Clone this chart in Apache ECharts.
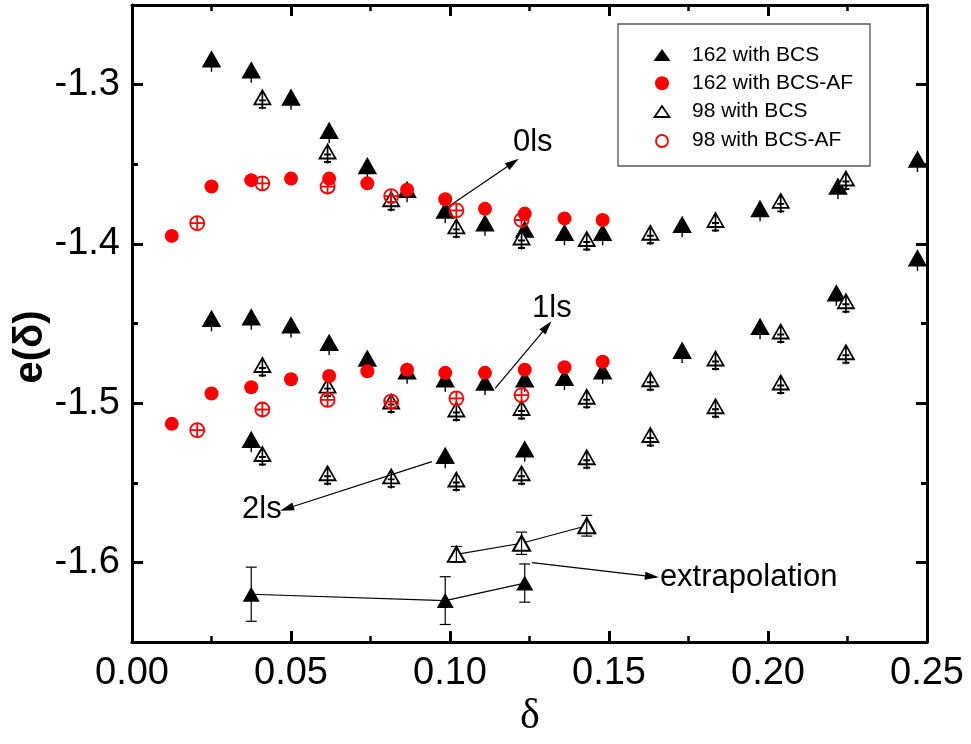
<!DOCTYPE html>
<html><head><meta charset="utf-8">
<script src="https://cdn.jsdelivr.net/npm/echarts@6/dist/echarts.min.js"></script>
<style>html,body{margin:0;padding:0;background:#fff}#c{width:971px;height:744px}</style>
</head><body><div id="c"></div>
<script>
// ---------------- data ----------------
// 162 sites with BCS (filled black triangles)
const tri162_0ls = [[0.025,-1.284],[0.0375,-1.291],[0.05,-1.308],[0.062,-1.329],[0.074,-1.351],[0.0865,-1.366],[0.0985,-1.379],[0.111,-1.387],[0.1235,-1.391],[0.136,-1.393],[0.148,-1.393],[0.173,-1.388],[0.1975,-1.378],[0.222,-1.364],[0.247,-1.347]];
const tri162_1ls = [[0.025,-1.447],[0.0375,-1.446],[0.05,-1.451],[0.062,-1.462],[0.074,-1.472],[0.0865,-1.480],[0.0985,-1.485],[0.111,-1.487],[0.1235,-1.485],[0.136,-1.484],[0.148,-1.480],[0.173,-1.467],[0.1975,-1.452],[0.2215,-1.431],[0.247,-1.409]];
const tri162_2ls = [[0.0375,-1.523],[0.0985,-1.533],[0.1235,-1.529]];
// 98 sites with BCS (open triangles)
const tri98_0ls = [[0.041,-1.308],[0.0615,-1.342],[0.0815,-1.372],[0.102,-1.389],[0.1225,-1.396],[0.143,-1.397],[0.163,-1.393],[0.1835,-1.385],[0.204,-1.373],[0.2245,-1.359]];
const tri98_1ls = [[0.041,-1.476],[0.0615,-1.489],[0.0815,-1.499],[0.102,-1.504],[0.1225,-1.503],[0.143,-1.496],[0.163,-1.485],[0.1835,-1.472],[0.204,-1.455],[0.2245,-1.436]];
const tri98_2ls = [[0.041,-1.532],[0.0615,-1.544],[0.0815,-1.546],[0.102,-1.548],[0.1225,-1.544],[0.143,-1.534],[0.163,-1.520],[0.1835,-1.502],[0.204,-1.487],[0.2245,-1.468]];
// 162 sites with BCS-AF (red filled circles)
const circ162_0ls = [[0.0125,-1.395],[0.025,-1.364],[0.0375,-1.360],[0.05,-1.359],[0.062,-1.359],[0.074,-1.362],[0.0865,-1.366],[0.0985,-1.372],[0.111,-1.378],[0.1235,-1.381],[0.136,-1.384],[0.148,-1.385]];
const circ162_1ls = [[0.0125,-1.513],[0.025,-1.494],[0.0375,-1.490],[0.05,-1.485],[0.062,-1.483],[0.074,-1.480],[0.0865,-1.479],[0.0985,-1.481],[0.111,-1.481],[0.1235,-1.479],[0.136,-1.4775],[0.148,-1.474]];
// 98 sites with BCS-AF (red open circles)
const ring98_0ls = [[0.0205,-1.387],[0.041,-1.362],[0.0615,-1.364],[0.0815,-1.370],[0.102,-1.379],[0.1225,-1.385]];
const ring98_1ls = [[0.0205,-1.517],[0.041,-1.504],[0.0615,-1.498],[0.0815,-1.499],[0.102,-1.497],[0.1225,-1.495]];
// extrapolations with error bars
const ext162 = [[0.0375,-1.620],[0.0985,-1.624],[0.1235,-1.613]];
const ext162Err = [0.017,0.015,0.012];
const ext98 = [[0.102,-1.595],[0.1225,-1.588],[0.143,-1.577]];
const ext98Err = [0.005,0.007,0.0065];
// axis ticks
const xTickLabels = ['0.00','0.05','0.10','0.15','0.20','0.25'];
const yMajorTicks = [-1.6,-1.5,-1.4,-1.3];
const yMinorTicks = [-1.55,-1.45,-1.35];
// annotations (data coordinates)
const arrows = [[0.0991,-1.3772,0.1198,-1.3490],[0.1142,-1.4908,0.1305,-1.4519],[0.0943,-1.5367,0.0487,-1.5662],[0.1258,-1.6001,0.1635,-1.6089]];
const notes = [['0ls',0.1198,-1.3361],['1ls',0.1258,-1.4403],['2ls',0.0346,-1.5668],['extrapolation',0.1660,-1.6095]];
const legendNames = ['162 with BCS','162 with BCS-AF','98 with BCS','98 with BCS-AF'];

// ---------------- chart ----------------
const FONT = '"Liberation Sans", Arial, Helvetica, sans-serif';
const chart = echarts.init(document.getElementById('c'));

const filledTri = 'path://M0,0 L8.5,15 L-8.5,15 Z M0,0 L0,20';
const openTri = 'path://M0,0 L8,14 L-8,14 Z M0,0 L0,19 M-3.5,10 L3.5,10 M-3.5,17.5 L3.5,17.5';
const ringPlus = 'path://M7,0 A7,7 0 1 1 -7,0 A7,7 0 1 1 7,0 Z M-7,0 L7,0 M0,-7 L0,7';

function xAx(pos, labels){
  return {type:'value', min:0, max:0.25, interval:0.05, position:pos,
    axisLine:{show:true, onZero:false, lineStyle:{color:'#000', width:3}},
    axisTick:{show:true, inside:true, length:11, lineStyle:{color:'#000', width:3}},
    minorTick:{show:true, splitNumber:2, length:6, lineStyle:{color:'#000', width:2.5}},
    splitLine:{show:false}, minorSplitLine:{show:false},
    axisLabel:{show:labels, fontSize:38, color:'#000', fontFamily:FONT, margin:13,
      formatter:(v)=>{const i=Math.round(v/0.05); return xTickLabels[i]||'';}}};
}
function yAx(pos, ticks, len, line, labels){
  return {type:'value', min:-1.65, max:-1.25, interval:0.05, position:pos,
    axisLine:{show:line, onZero:false, lineStyle:{color:'#000', width:3}},
    axisTick:{show:true, inside:true, length:len, customValues:ticks, lineStyle:{color:'#000', width:3}},
    splitLine:{show:false},
    axisLabel:{show:labels, customValues:yMajorTicks, fontSize:38, color:'#000', fontFamily:FONT, margin:12,
      formatter:(v)=>v.toFixed(1)}};
}
function errSeries(pts, errs){
  return {type:'custom', xAxisIndex:0, yAxisIndex:0, z:6, silent:true,
    data: pts.map((p,i)=>[p[0],p[1],errs[i]]),
    renderItem:(params, api)=>{
      const x=api.value(0), y=api.value(1), e=api.value(2);
      const t=api.coord([x,y+e]), b=api.coord([x,y-e]); const cw=5.5;
      const st={stroke:'#000', lineWidth:1.2};
      return {type:'group', children:[
        {type:'line', shape:{x1:t[0],y1:t[1],x2:b[0],y2:b[1]}, style:st},
        {type:'line', shape:{x1:t[0]-cw,y1:t[1],x2:t[0]+cw,y2:t[1]}, style:st},
        {type:'line', shape:{x1:b[0]-cw,y1:b[1],x2:b[0]+cw,y2:b[1]}, style:st}]};
    }};
}

const option = {
  animation:false,
  backgroundColor:'#fff',
  grid:{left:132, right:44, top:5, bottom:102, containLabel:false},
  xAxis:[xAx('bottom', true), xAx('top', false)],
  yAxis:[yAx('left', yMajorTicks, 11, true, true), yAx('left', yMinorTicks, 6, false, false),
         yAx('right', yMajorTicks, 11, true, false), yAx('right', yMinorTicks, 6, false, false)],
  series:[
    {name:legendNames[0], type:'scatter', z:2, silent:true, data:[].concat(tri162_0ls, tri162_1ls, tri162_2ls),
      symbol:filledTri, symbolSize:[17,20], symbolOffset:[0,2.5],
      itemStyle:{color:'#000', borderColor:'#000', borderWidth:1.5, opacity:1}},
    {name:legendNames[2], type:'scatter', z:3, silent:true, data:[].concat(tri98_0ls, tri98_1ls, tri98_2ls),
      symbol:openTri, symbolSize:[16,19], symbolOffset:[0,2.5],
      itemStyle:{color:'#fff', borderColor:'#000', borderWidth:1.8, opacity:1}},
    {name:legendNames[1], type:'scatter', z:4, silent:true, data:[].concat(circ162_0ls, circ162_1ls),
      symbol:'circle', symbolSize:14, itemStyle:{color:'#f00', opacity:1}},
    {name:legendNames[3], type:'scatter', z:5, silent:true, data:[].concat(ring98_0ls, ring98_1ls),
      symbol:ringPlus, symbolSize:[14,14], itemStyle:{color:'rgba(255,255,255,0)', borderColor:'#f00', borderWidth:1.8, opacity:1}},
    {name:legendNames[0], type:'line', z:4, silent:true, data:ext162, symbol:'triangle', symbolSize:[17,15],
      itemStyle:{color:'#000', opacity:1}, lineStyle:{color:'#000', width:1.2},
      markLine:{silent:true, symbol:['none','triangle'], symbolSize:[8,14], animation:false,
        lineStyle:{color:'#000', width:1.2, type:'solid'}, label:{show:false}, emphasis:{disabled:true},
        data: arrows.map(a=>[{coord:[a[0],a[1]]},{coord:[a[2],a[3]]}])}},
    {name:legendNames[2], type:'line', z:4, silent:true, data:ext98, symbol:'triangle', symbolSize:[17,15],
      itemStyle:{color:'#fff', borderColor:'#000', borderWidth:2, opacity:1}, lineStyle:{color:'#000', width:1.2}},
    errSeries(ext162, ext162Err),
    errSeries(ext98, ext98Err)
  ]
};
chart.setOption(option);

// annotations, axis titles and legend as graphic text/shapes
const g = [];
notes.forEach(n=>{
  const p = chart.convertToPixel({xAxisIndex:0, yAxisIndex:0}, [n[1], n[2]]);
  g.push({type:'text', x:p[0], y:p[1], silent:true, style:{text:n[0], fill:'#000', font:'31px '+FONT, align:'left', verticalAlign:'middle'}});
});
g.push({type:'text', x:31, y:347, rotation:Math.PI/2, silent:true,
  style:{text:'e(δ)', fill:'#000', font:'bold 40px '+FONT, align:'center', verticalAlign:'middle'}});
g.push({type:'text', x:530, y:717, silent:true,
  style:{text:'δ', fill:'#000', font:'42px "Liberation Serif", "Times New Roman", serif', align:'center', verticalAlign:'middle'}});
// legend box
g.push({type:'rect', silent:true, shape:{x:618, y:24, width:252, height:142}, style:{fill:'#fff', stroke:'#555', lineWidth:1.3}, z:100});
const rows = [55, 83.3, 111.5, 140];
g.push({type:'polygon', silent:true, z:101, shape:{points:[[653.5,61],[670.5,61],[662,49]]}, style:{fill:'#000'}});
g.push({type:'circle', silent:true, z:101, shape:{cx:662, cy:83.3, r:7}, style:{fill:'#f00'}});
g.push({type:'polygon', silent:true, z:101, shape:{points:[[654.5,117],[669.5,117],[662,106]]}, style:{fill:'none', stroke:'#000', lineWidth:1.8}});
g.push({type:'circle', silent:true, z:101, shape:{cx:662, cy:141, r:6}, style:{fill:'none', stroke:'#f00', lineWidth:1.8}});
legendNames.forEach((t,i)=>{
  g.push({type:'text', silent:true, z:101, x:692, y:rows[i], style:{text:t, fill:'#000', font:'21px '+FONT, align:'left', verticalAlign:'middle'}});
});
chart.setOption({graphic:g});
</script></body></html>
